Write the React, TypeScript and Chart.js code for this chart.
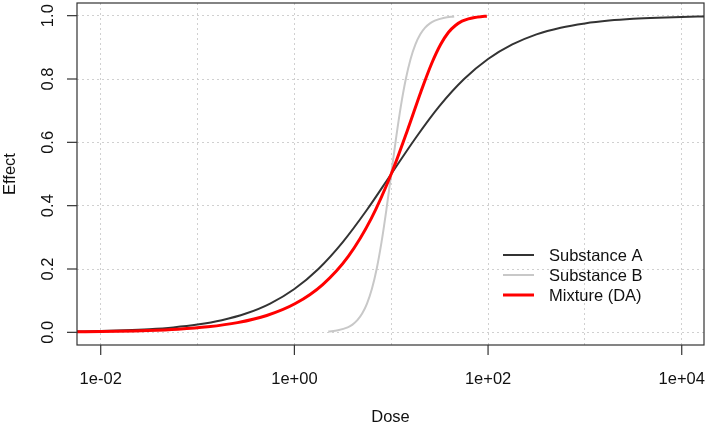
import React, { useEffect, useRef } from 'react';
import { Chart, registerables } from 'chart.js';

Chart.register(...registerables);

// ---- data ----
const doseA = [0.00562, 0.01, 0.0178, 0.0316, 0.0562, 0.1, 0.178, 0.316, 0.562, 1, 1.78, 3.16, 5.62, 10, 17.8, 31.6, 56.2, 100, 178, 316, 562, 1000, 1778, 3162, 5623, 10000, 17783];
const effectA = [0.0025, 0.004, 0.0063, 0.0099, 0.0156, 0.0245, 0.0383, 0.0593, 0.0909, 0.137, 0.201, 0.285, 0.387, 0.5, 0.613, 0.715, 0.799, 0.863, 0.909, 0.941, 0.962, 0.9755, 0.9844, 0.9901, 0.9937, 0.996, 0.9975];

const doseB = [2.24, 2.82, 3.55, 3.98, 4.47, 5.01, 5.62, 6.31, 7.08, 7.94, 8.91, 10, 11.22, 12.59, 14.13, 15.85, 17.78, 19.95, 22.39, 25.12, 28.18, 35.48, 44.67];
const effectB = [0.0025, 0.0063, 0.0156, 0.0245, 0.0383, 0.0593, 0.0909, 0.137, 0.201, 0.285, 0.387, 0.5, 0.613, 0.715, 0.799, 0.863, 0.909, 0.941, 0.962, 0.9755, 0.9844, 0.9937, 0.9975];

const doseMix = [0.00474, 0.01495, 0.0306, 0.0626, 0.1276, 0.2585, 0.5185, 1.0225, 1.961, 3.603, 6.232, 10, 14.78, 20.26, 26.15, 32.34, 38.88, 45.98, 53.81, 62.62, 72.64, 84.07, 97.2];
const effectMix = [0.00126, 0.00315, 0.00559, 0.0099, 0.0175, 0.0307, 0.0532, 0.0909, 0.151, 0.24, 0.36, 0.5, 0.64, 0.76, 0.849, 0.909, 0.947, 0.969, 0.9825, 0.99, 0.9944, 0.9969, 0.9982];

const seriesNames = ['Substance A', 'Substance B', 'Mixture (DA)'];
const seriesColors = ['#333333', '#c8c8c8', '#ff0000'];
const seriesWidths = [2, 2, 3];

const xGridDoses = [0.01, 0.1, 1, 10, 100, 1000, 10000];
const xTickDoses = [0.01, 1, 100, 10000];
const xTickLabels = ['1e-02', '1e+00', '1e+02', '1e+04'];
const yTickValues = [0, 0.2, 0.4, 0.6, 0.8, 1.0];
const yTickLabels = ['0.0', '0.2', '0.4', '0.6', '0.8', '1.0'];
const xTitle = 'Dose';
const yTitle = 'Effect';

const FONT = '16.5px "Liberation Sans", Arial, sans-serif';

const rPlot = {
  id: 'rPlot',
  afterDraw(chart: any) {
    const { ctx, chartArea: a, scales } = chart;
    const xs = scales.x;
    const ys = scales.y;
    ctx.save();
    ctx.setLineDash([]);
    ctx.strokeStyle = '#333333';
    ctx.lineWidth = 1.2;
    ctx.strokeRect(a.left, a.top, a.right - a.left, a.bottom - a.top);

    ctx.fillStyle = '#111111';
    ctx.font = FONT;
    // x axis ticks + labels
    ctx.textAlign = 'center';
    ctx.textBaseline = 'alphabetic';
    xTickDoses.forEach((d, i) => {
      const px = xs.getPixelForValue(d);
      ctx.beginPath();
      ctx.moveTo(px, a.bottom);
      ctx.lineTo(px, a.bottom + 10);
      ctx.stroke();
      ctx.fillText(xTickLabels[i], px, a.bottom + 39);
    });
    // y axis ticks + rotated labels
    yTickValues.forEach((v, i) => {
      const py = ys.getPixelForValue(v);
      ctx.beginPath();
      ctx.moveTo(a.left - 10, py);
      ctx.lineTo(a.left, py);
      ctx.stroke();
      ctx.save();
      ctx.translate(a.left - 24, py);
      ctx.rotate(-Math.PI / 2);
      ctx.fillText(yTickLabels[i], 0, 0);
      ctx.restore();
    });
    // titles
    ctx.fillText(xTitle, (a.left + a.right) / 2, a.bottom + 76.5);
    ctx.save();
    ctx.translate(a.left - 62, (a.top + a.bottom) / 2);
    ctx.rotate(-Math.PI / 2);
    ctx.fillText(yTitle, 0, 0);
    ctx.restore();

    // legend (no box)
    ctx.textAlign = 'left';
    ctx.textBaseline = 'middle';
    seriesNames.forEach((name, i) => {
      const ly = 255 + i * 20;
      ctx.strokeStyle = seriesColors[i];
      ctx.lineWidth = seriesWidths[i];
      ctx.beginPath();
      ctx.moveTo(503, ly);
      ctx.lineTo(534, ly);
      ctx.stroke();
      ctx.fillStyle = '#111111';
      ctx.fillText(name, 549, ly + 1);
    });
    ctx.restore();
  },
};

export default function App() {
  const canvasRef = useRef<HTMLCanvasElement | null>(null);

  useEffect(() => {
    document.body.style.margin = '0';
    const canvas = canvasRef.current;
    if (!canvas) return;
    const mk = (xs: number[], ys: number[]) => xs.map((x, i) => ({ x, y: ys[i] }));
    const chart = new Chart(canvas, {
      type: 'line',
      data: {
        datasets: [
          { label: seriesNames[0], data: mk(doseA, effectA), borderColor: seriesColors[0], borderWidth: seriesWidths[0], order: 3 },
          { label: seriesNames[1], data: mk(doseB, effectB), borderColor: seriesColors[1], borderWidth: seriesWidths[1], order: 2 },
          { label: seriesNames[2], data: mk(doseMix, effectMix), borderColor: seriesColors[2], borderWidth: seriesWidths[2], order: 1 },
        ].map((d) => ({ ...d, pointRadius: 0, fill: false, cubicInterpolationMode: 'monotone' as const })),
      },
      options: {
        responsive: false,
        animation: false,
        devicePixelRatio: 1,
        layout: { padding: { left: 0, right: 5, top: 3, bottom: 0 } },
        plugins: { legend: { display: false }, tooltip: { enabled: false } },
        scales: {
          x: {
            type: 'logarithmic',
            min: 0.00569,
            max: 16980,
            afterBuildTicks: (s: any) => {
              s.ticks = xGridDoses.map((v) => ({ value: v }));
            },
            afterFit: (s: any) => {
              s.height = 81;
            },
            ticks: { display: false },
            grid: { color: '#d0d0d0', lineWidth: 1, drawTicks: false },
            border: { display: false, dash: [2, 3] },
          },
          y: {
            type: 'linear',
            min: -0.04,
            max: 1.04,
            afterBuildTicks: (s: any) => {
              s.ticks = yTickValues.map((v) => ({ value: v }));
            },
            afterFit: (s: any) => {
              s.width = 77;
            },
            ticks: { display: false },
            grid: { color: '#d0d0d0', lineWidth: 1, drawTicks: false },
            border: { display: false, dash: [2, 3] },
          },
        },
      },
      plugins: [rPlot],
    });
    return () => chart.destroy();
  }, []);

  return (
    <div style={{ position: 'fixed', left: 0, top: 0, width: 709, height: 426, background: '#fff' }}>
      <canvas ref={canvasRef} width={709} height={426} style={{ width: 709, height: 426, display: 'block' }} />
    </div>
  );
}
